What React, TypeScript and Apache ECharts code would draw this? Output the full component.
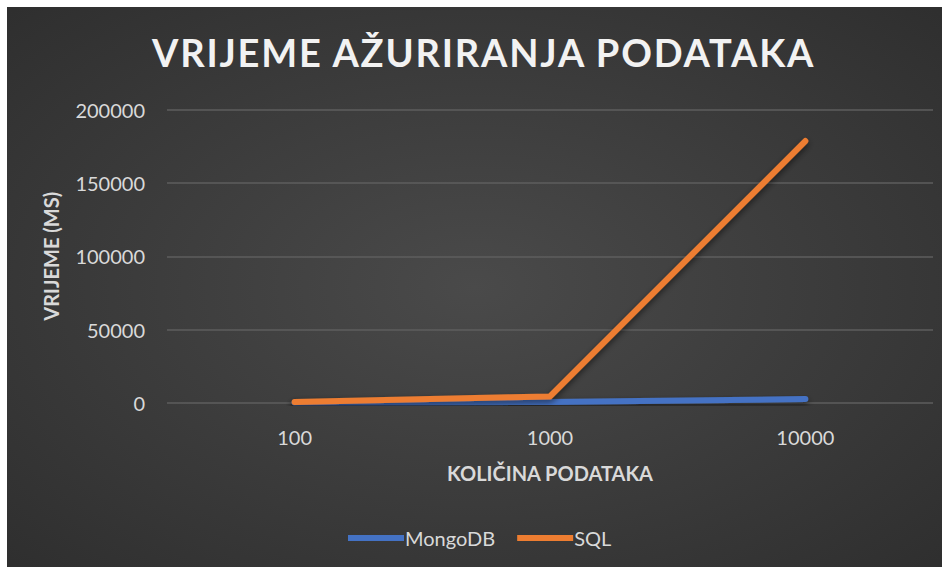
import React, { useEffect, useRef } from "react";
import * as echarts from "echarts";

const categories = ["100", "1000", "10000"];
const mongoValues = [300, 700, 2700];
const sqlValues = [700, 4500, 178500];
const seriesNames = ["MongoDB", "SQL"];
const titleText = "VRIJEME AŽURIRANJA PODATAKA";
const xName = "KOLIČINA PODATAKA";
const yName = "VRIJEME (MS)";

export default function App() {
  const ref = useRef<HTMLDivElement>(null);
  useEffect(() => {
    if (!ref.current) return;
    const chart = echarts.init(ref.current, undefined, { renderer: "svg" });
    const font = "Lato";
    const shadow = {
      shadowColor: "rgba(0,0,0,0.55)",
      shadowBlur: 6,
      shadowOffsetY: 3,
    };
    chart.setOption({
      animation: false,
      backgroundColor: {
        type: "radial",
        x: 0.5,
        y: 0.5,
        r: 0.75,
        colorStops: [
          { offset: 0, color: "#4a4a4a" },
          { offset: 1, color: "#2d2d2d" },
        ],
      },
      title: {
        text: titleText,
        left: 140,
        top: 21,
        textStyle: {
          color: "#f2f2f2",
          fontFamily: font,
          fontWeight: "bold",
          fontSize: 38,
        },
      },
      legend: {
        bottom: 14,
        left: 336,
        itemWidth: 56,
        itemHeight: 6,
        itemGap: 22,
        icon: "rect",
        textStyle: { color: "#d9d9d9", fontFamily: font, fontSize: 20, padding: [0, 0, 0, -4] },
        data: seriesNames,
      },
      grid: { left: 160, right: 9, top: 102.5, bottom: 164 },
      xAxis: {
        type: "category",
        data: categories,
        boundaryGap: true,
        axisLine: { show: false },
        axisTick: { show: false },
        axisLabel: { color: "#d9d9d9", fontFamily: font, fontSize: 20, margin: 24 },
        name: xName,
        nameLocation: "middle",
        nameGap: 60,
        nameTextStyle: { color: "#d9d9d9", fontFamily: font, fontSize: 20, fontWeight: "bold" },
      },
      yAxis: {
        type: "value",
        min: 0,
        max: 200000,
        interval: 50000,
        axisLine: { show: false },
        axisTick: { show: false },
        splitLine: { lineStyle: { color: "#5e5e5e", width: 1.5 } },
        axisLabel: {
          color: "#d9d9d9",
          fontFamily: font,
          fontSize: 20,
          margin: 22,
          formatter: (v: number) => String(v),
        },
        name: yName,
        nameLocation: "middle",
        nameGap: 106,
        nameTextStyle: { color: "#d9d9d9", fontFamily: font, fontSize: 20, fontWeight: "bold" },
      },
      series: [
        {
          name: seriesNames[0],
          type: "line",
          data: mongoValues,
          symbol: "none",
          color: "#4472C4",
          lineStyle: { width: 6, cap: "round", join: "round", color: "#4472C4", ...shadow },
        },
        {
          name: seriesNames[1],
          type: "line",
          data: sqlValues,
          symbol: "none",
          color: "#ED7D31",
          lineStyle: { width: 6, cap: "round", join: "round", color: "#ED7D31", ...shadow },
        },
      ],
    });
    const texts = ref.current.querySelectorAll("text");
    texts.forEach((t) => {
      if (t.textContent === titleText) {
        (t as SVGTextElement).style.letterSpacing = "1.8px";
      }
    });
    return () => chart.dispose();
  }, []);
  return (
    <div style={{ position: "fixed", left: 0, top: 0, width: 942, height: 567, background: "#ffffff" }}>
      <div ref={ref} style={{ position: "absolute", left: 7, top: 7, width: 935, height: 560 }} />
    </div>
  );
}
